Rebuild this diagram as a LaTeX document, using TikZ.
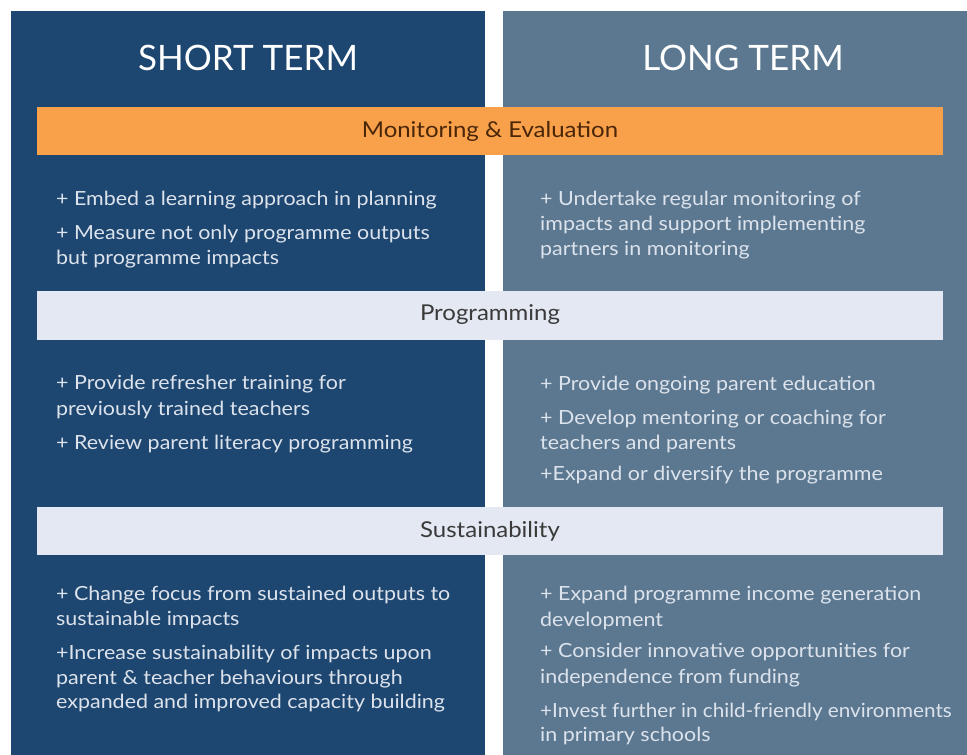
\documentclass[tikz,border=0pt]{standalone}
\usepackage{fontspec}
\setmainfont{Lato}
\newfontfamily\widefont{Lato}[FakeStretch=1.1]
\newfontfamily\narrowfont{Lato}[FakeStretch=1.06]
\definecolor{navy}{HTML}{1D4670}
\definecolor{slate}{HTML}{5B7890}
\definecolor{orangeband}{HTML}{F8A04A}
\definecolor{lightband}{HTML}{E3E8F2}
\definecolor{bodytxt}{HTML}{DDE3EC}
\definecolor{bandtxt}{HTML}{3A3A3A}
\definecolor{orangetxt}{HTML}{4A2608}
\tikzset{
  title/.style={text=white, font=\fontsize{35}{40}\selectfont, anchor=center},
  bandlabel/.style={font=\widefont\fontsize{21.8}{24}\selectfont, anchor=center},
  item/.style={text=bodytxt, font=\widefont\fontsize{19.5}{22}\selectfont, anchor=base west, inner sep=0pt},
  tightitem/.style={item, font=\narrowfont\fontsize{19.5}{22}\selectfont}
}
\begin{document}
\begin{tikzpicture}[x=1pt,y=-1pt]
\useasboundingbox (0,0) rectangle (967,755);
\fill[white] (0,0) rectangle (967,755);
% panels
\fill[navy] (11,11) rectangle (485,755);
\fill[slate] (503,11) rectangle (967,755);
% titles
\node[title] (st) at (248,58) {SHORT TERM};
\node[title] (lt) at (743,58) {LONG TERM};
% bands
\fill[orangeband] (37,107) rectangle (943,155);
\node[bandlabel, text=orangetxt] (me) at (490,131) {Monitoring \& Evaluation};
\fill[lightband] (37,291) rectangle (943,340);
\node[bandlabel, text=bandtxt] (pr) at (490,315) {Programming};
\fill[lightband] (37,507) rectangle (943,555);
\node[bandlabel, text=bandtxt] (su) at (490,531) {Sustainability};
% M&E left
\node[item] (a1) at (56,205) {+ Embed a learning approach in planning};
\node[item] (a2) at (56,239) {+ Measure not only programme outputs};
\node[item] (a3) at (56,264) {but programme impacts};
% M&E right
\node[item] (b1) at (540,205) {+ Undertake regular monitoring of};
\node[item] (b2) at (540,230) {impacts and support implementing};
\node[item] (b3) at (540,255) {partners in monitoring};
% Programming left
\node[item] (c1) at (56,389) {+ Provide refresher training for};
\node[item] (c2) at (56,415) {previously trained teachers};
\node[item] (c3) at (56,449) {+ Review parent literacy programming};
% Programming right
\node[item] (d1) at (540,390) {+ Provide ongoing parent education};
\node[item] (d2) at (540,424) {+ Develop mentoring or coaching for};
\node[item] (d3) at (540,449) {teachers and parents};
\node[item] (d4) at (540,480) {+Expand or diversify the programme};
% Sustainability left
\node[item] (e1) at (56,600) {+ Change focus from sustained outputs to};
\node[item] (e2) at (56,625) {sustainable impacts};
\node[item] (e3) at (56,659) {+Increase sustainability of impacts upon};
\node[item] (e4) at (56,684) {parent \& teacher behaviours through};
\node[item] (e5) at (56,708) {expanded and improved capacity building};
% Sustainability right
\node[item] (f1) at (540,600) {+ Expand programme income generation};
\node[item] (f2) at (540,626) {development};
\node[item] (f3) at (540,657) {+ Consider innovative opportunities for};
\node[item] (f4) at (540,683) {independence from funding};
\node[tightitem] (f5) at (540,717) {+Invest further in child-friendly environments};
\node[item] (f6) at (540,741) {in primary schools};
\end{tikzpicture}
\end{document}
